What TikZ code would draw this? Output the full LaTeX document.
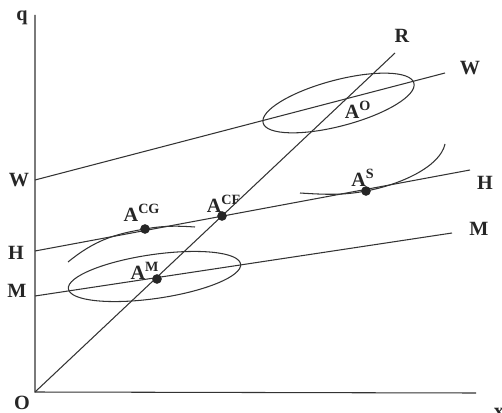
\documentclass[tikz,border=0pt]{standalone}
\usepackage{fontspec}
\setmainfont{Liberation Serif}
\usetikzlibrary{positioning}
\tikzset{ln/.style={draw=black!80,line width=0.6pt},
  lbl/.style={font=\bfseries\fontsize{11.5}{13}\selectfont,text=black!85,inner sep=1pt},
  pt/.style={circle,fill=black!85,inner sep=0pt,minimum size=5.5pt}}

\begin{document}
\begin{tikzpicture}[x=0.02cm,y=0.02cm]
\useasboundingbox (0,0) rectangle (502,412);
% axes
\coordinate (o) at (35,20);
\coordinate (qtop) at (35,397);
\coordinate (xend) at (476,19);
\draw[ln] (qtop) -- (o) -- (xend);
\node[lbl] (q) at (22,394) {q};
\node[lbl] (origin) at (22,9) {O};
\node[lbl] (xlab) at (499,-1) {x};
% lines
\coordinate (w0) at (35,232); \coordinate (w1) at (445,339);
\coordinate (h0) at (35,161); \coordinate (h1) at (470,242);
\coordinate (m0) at (35,116); \coordinate (m1) at (452,179);
\coordinate (r1) at (395,359);
\draw[ln] (w0) -- (w1);
\draw[ln] (h0) -- (h1);
\draw[ln] (m0) -- (m1);
\draw[ln] (o) -- (r1);
\node[lbl] (wl) at (19,232) {W};
\node[lbl] (hl) at (16,159) {H};
\node[lbl] (ml) at (17,121) {M};
\node[lbl] (wr) at (470,344) {W};
\node[lbl] (hr) at (485,229) {H};
\node[lbl] (mr) at (479,183) {M};
\node[lbl] (rr) at (402,376) {R};
% ellipses
\draw[ln,rotate around={14.8:(338.5,309)}] (338.5,309) ellipse (78 and 23);
\draw[ln,rotate around={8.2:(154.5,135.5)}] (154.5,135.5) ellipse (87 and 22);
% indifference curves
\draw[ln] (68,150) .. controls (95,172) and (115,178) .. (145,183)
  .. controls (165,186.7) and (180,186) .. (195,185);
\draw[ln] (300,219) .. controls (330,217) and (345,217.1) .. (366,221)
  .. controls (400,227.3) and (440,245) .. (445,268);
% points
\node[pt] (acf) at (222,196) {};
\node[pt] (am) at (157,133) {};
\node[pt] (acg) at (145,183) {};
\node[pt] (as) at (366,221) {};
\node[lbl] (acfl) at (224,208) {A\textsuperscript{CF}};
\node[lbl] (aml) at (145,141) {A\textsuperscript{M}};
\node[lbl] (acgl) at (142,199) {A\textsuperscript{CG}};
\node[lbl] (asl) at (363,234) {A\textsuperscript{S}};
\node[lbl] (aol) at (358,302) {A\textsuperscript{O}};
\end{tikzpicture}
\end{document}
